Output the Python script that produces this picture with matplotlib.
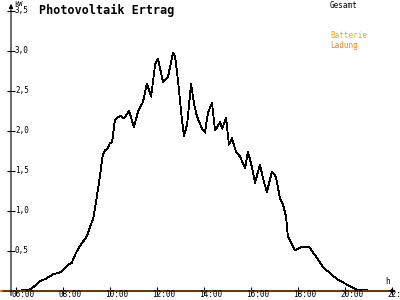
import matplotlib
matplotlib.use('Agg')
import matplotlib.pyplot as plt

# Tageskurve Photovoltaik (Stunden, kW)
stunden = [5.4, 6.55, 6.74, 7.02, 7.31, 7.59, 7.84, 8.01, 8.23, 8.37, 8.51, 8.65, 8.86,
           9.01, 9.15, 9.29, 9.43, 9.57, 9.69, 9.79, 9.89, 10.0, 10.09, 10.21, 10.43,
           10.6, 10.81, 11.02, 11.19, 11.4, 11.57, 11.75, 11.92, 12.04, 12.26, 12.47,
           12.68, 12.77, 12.89, 13.06, 13.15, 13.28, 13.45, 13.57, 13.66, 13.75, 13.92,
           14.04, 14.17, 14.34, 14.47, 14.55, 14.68, 14.77, 14.94, 15.06, 15.19, 15.36,
           15.53, 15.75, 15.87, 16.04, 16.17, 16.38, 16.55, 16.68, 16.89, 17.06, 17.23,
           17.36, 17.49, 17.57, 17.75, 17.87, 18.17, 18.47, 18.72, 19.06, 19.45, 19.7,
           20.09, 20.43, 20.55, 22.0]
gesamt = [0.0, 0.01, 0.05, 0.12, 0.16, 0.21, 0.23, 0.26, 0.33, 0.35, 0.45, 0.53, 0.62,
          0.68, 0.80, 0.91, 1.16, 1.43, 1.70, 1.76, 1.78, 1.85, 1.86, 2.14, 2.19,
          2.16, 2.25, 2.05, 2.24, 2.36, 2.59, 2.43, 2.83, 2.90, 2.61, 2.68,
          2.98, 2.93, 2.64, 2.14, 1.94, 2.08, 2.59, 2.35, 2.23, 2.14, 2.03,
          1.98, 2.23, 2.35, 2.01, 2.04, 2.11, 2.03, 2.16, 1.83, 1.91, 1.74,
          1.68, 1.54, 1.74, 1.55, 1.35, 1.58, 1.36, 1.24, 1.49, 1.43, 1.16,
          1.08, 0.93, 0.68, 0.58, 0.51, 0.55, 0.55, 0.45, 0.30, 0.20, 0.14,
          0.08, 0.03, 0.01, 0.0]
ladung_t = [5.3, 22.05]
ladung = [0.0, 0.0]

y_ticks = [0.5, 1.0, 1.5, 2.0, 2.5, 3.0, 3.5]
y_labels = ['0,5', '1,0', '1,5', '2,0', '2,5', '3,0', '3,5']
x_ticks = [6, 8, 10, 12, 14, 16, 18, 20, 22]
x_labels = ['06:00', '08:00', '10:00', '12:00', '14:00', '16:00', '18:00', '20:00', '22:00']

mono = 'DejaVu Sans Mono'

fig = plt.figure(figsize=(4, 3), dpi=100)
ax = fig.add_axes([0, 0, 1, 1])
ax.set_xlim(5.319, 22.34)
ax.set_ylim(-0.1125, 3.6375)
ax.axis('off')

y_achse = 5.787

# Achsen mit Pfeilen
ax.annotate('', xy=(y_achse, 3.625), xytext=(y_achse, -0.09),
            arrowprops=dict(arrowstyle='-|>', lw=0.8, color='black', mutation_scale=6))
ax.annotate('', xy=(22.28, 0), xytext=(5.319, 0),
            arrowprops=dict(arrowstyle='-|>', lw=0.8, color='black', mutation_scale=6))

# Ticks
ax.plot([y_achse] * len(y_ticks), y_ticks, ls='none', marker='_', ms=6, mew=0.8, color='black')
ax.plot(x_ticks, [0] * len(x_ticks), ls='none', marker='|', ms=6, mew=0.8, color='black')
for v, lab in zip(y_ticks, y_labels):
    ax.text(y_achse + 0.17, v, lab, fontsize=5.5, family=mono, ha='left', va='center')
for h, lab in zip(x_ticks, x_labels):
    ax.text(h - 0.2, -0.1, lab, fontsize=5.5, family=mono, ha='left', va='bottom')

# Kurven
ax.plot(stunden, gesamt, color='black', lw=0.6, antialiased=False)
ax.plot(ladung_t, ladung, color='#ff8000', lw=1.1, antialiased=False)

fig.text(14 / 400, 1 - 4 / 300, 'kW', fontsize=5, family=mono, va='center')
fig.text(39 / 400, 1 - 10 / 300, 'Photovoltaik Ertrag', fontsize=8.5, family=mono,
         weight='bold', va='center')
fig.text(330 / 400, 1 - 5 / 300, 'Gesamt', fontsize=5.5, family=mono, va='center')
fig.text(330 / 400, 1 - 36 / 300, 'Batterie', fontsize=5.5, family=mono, va='center',
         color='#ffa500')
fig.text(330 / 400, 1 - 45 / 300, 'Ladung', fontsize=5.5, family=mono, va='center',
         color='#ff8000')
fig.text(385 / 400, 1 - 281 / 300, 'h', fontsize=5.5, family=mono, va='center')

fig.savefig('out.png', dpi=100)
